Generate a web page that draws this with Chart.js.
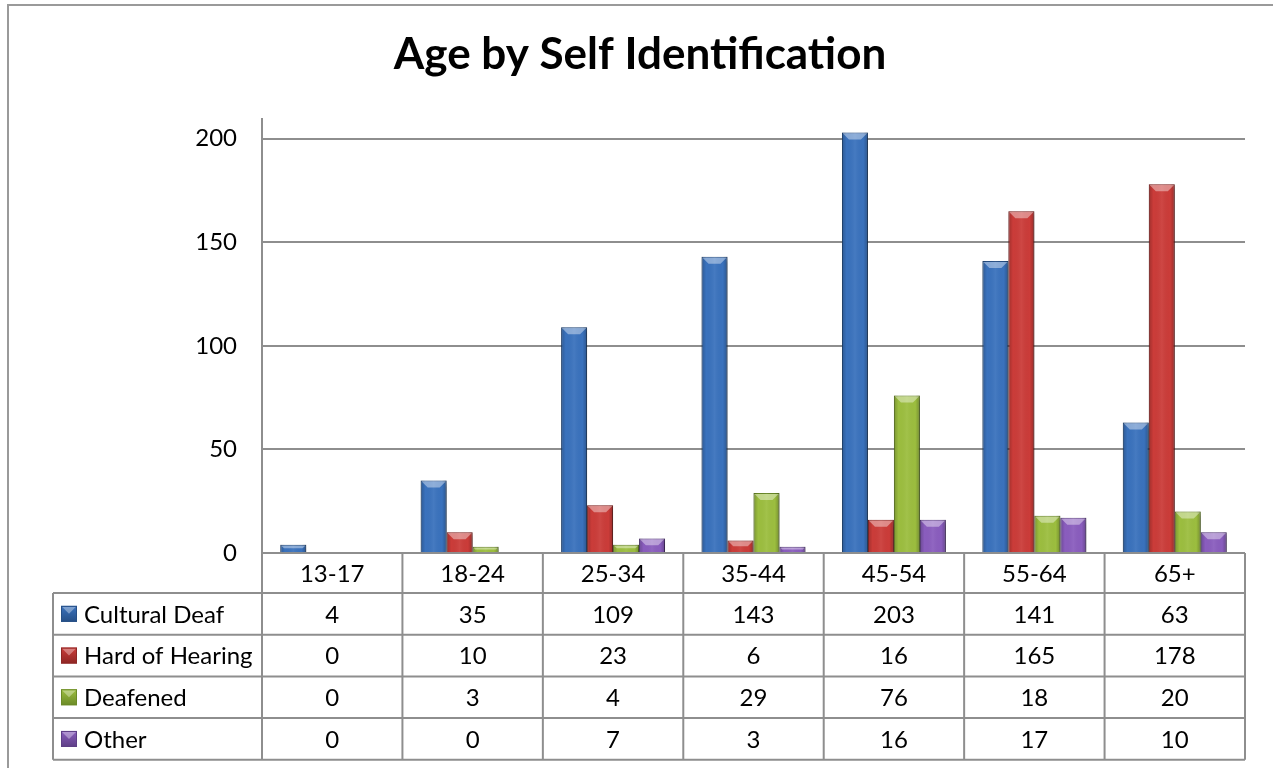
<!DOCTYPE html>
<html>
<head>
<meta charset="utf-8">
<title>Age by Self Identification</title>
<script src="https://cdn.jsdelivr.net/npm/chart.js@4.4.1/dist/chart.umd.min.js"></script>
<style>
  html, body { margin: 0; padding: 0; background: #fff; }
  #ageChart { display: block; }
</style>
</head>
<body>
<canvas id="ageChart" width="1273" height="768"></canvas>
<script>
/* ================= DATA ================= */
const ageGroups = ['13-17', '18-24', '25-34', '35-44', '45-54', '55-64', '65+'];
const culturalDeaf = [4, 35, 109, 143, 203, 141, 63];
const hardOfHearing = [0, 10, 23, 6, 16, 165, 178];
const deafened = [0, 3, 4, 29, 76, 18, 20];
const other = [0, 0, 7, 3, 16, 17, 10];
const seriesNames = ['Cultural Deaf', 'Hard of Hearing', 'Deafened', 'Other'];
const chartTitle = 'Age by Self Identification';

const fillColors = ['#3a72bd', '#cb3c39', '#9cbe3f', '#8a5dbe'];
const edgeColors = ['#264f86', '#8e2624', '#6b8a27', '#5e3f86'];

const FONT = 'Lato, "Open Sans", sans-serif';
const LINE = '#8e8e8e';

/* ================= FRAME + TITLE ================= */
const framePlugin = {
  id: 'frame',
  beforeDraw(chart) {
    const ctx = chart.ctx;
    ctx.save();
    ctx.strokeStyle = '#9a9a9a';
    ctx.lineWidth = 2;
    ctx.strokeRect(8, 5, chart.width + 20, chart.height + 20);

    ctx.fillStyle = '#000';
    ctx.font = 'bold 44px ' + FONT;
    ctx.textAlign = 'center';
    ctx.textBaseline = 'middle';
    ctx.fillText(chartTitle, 640, 55);
    ctx.restore();
  }
};

/* ================= BEVEL + SHADOW ON BARS ================= */
const bevelPlugin = {
  id: 'bevel',
  beforeDatasetDraw(chart) {
    const ctx = chart.ctx;
    ctx.save();
    ctx.shadowColor = 'rgba(0,0,0,0.35)';
    ctx.shadowBlur = 5;
    ctx.shadowOffsetX = 2;
    ctx.shadowOffsetY = 2;
  },
  afterDatasetDraw(chart, args) {
    const ctx = chart.ctx;
    ctx.restore();
    args.meta.data.forEach(bar => {
      const p = bar.getProps(['x', 'y', 'base', 'width'], true);
      const h = p.base - p.y;
      if (h <= 0.5) return;
      const left = p.x - p.width / 2;
      const right = p.x + p.width / 2;
      ctx.save();
      // darker sides
      const g = ctx.createLinearGradient(left, 0, right, 0);
      g.addColorStop(0, 'rgba(0,0,0,0.22)');
      g.addColorStop(0.18, 'rgba(0,0,0,0)');
      g.addColorStop(0.5, 'rgba(255,255,255,0.06)');
      g.addColorStop(0.82, 'rgba(0,0,0,0)');
      g.addColorStop(1, 'rgba(0,0,0,0.25)');
      ctx.fillStyle = g;
      ctx.fillRect(left, p.y, p.width, h);
      // light top cap
      const bev = Math.min(7, h / 2);
      ctx.beginPath();
      ctx.moveTo(left + 1, p.y + 1);
      ctx.lineTo(right - 1, p.y + 1);
      ctx.lineTo(right - bev, p.y + bev);
      ctx.lineTo(left + bev, p.y + bev);
      ctx.closePath();
      ctx.fillStyle = 'rgba(255,255,255,0.4)';
      ctx.fill();
      ctx.restore();
    });
  }
};

/* ================= DATA TABLE UNDER THE PLOT ================= */
const dataTablePlugin = {
  id: 'dataTable',
  afterDraw(chart) {
    const ctx = chart.ctx;
    const xs = chart.scales.x;
    const area = chart.chartArea;
    const colW = xs.width / ageGroups.length;
    const legendLeft = 53;
    const headTop = area.bottom;
    const headH = 40;
    const rowH = 41.7;
    const tableBottom = headTop + headH + rowH * seriesNames.length;

    ctx.save();
    ctx.strokeStyle = LINE;
    ctx.lineWidth = 2;

    // horizontal lines
    ctx.beginPath();
    ctx.moveTo(area.left, headTop);
    ctx.lineTo(area.right, headTop);
    for (let r = 0; r <= seriesNames.length; r++) {
      const y = headTop + headH + r * rowH;
      ctx.moveTo(legendLeft, y);
      ctx.lineTo(area.right, y);
    }
    // vertical lines
    ctx.moveTo(legendLeft, headTop + headH);
    ctx.lineTo(legendLeft, tableBottom);
    ctx.moveTo(area.left, area.top);
    ctx.lineTo(area.left, tableBottom);
    for (let i = 0; i < ageGroups.length; i++) {
      const x = xs.getPixelForValue(i) + colW / 2;
      ctx.moveTo(x, headTop);
      ctx.lineTo(x, tableBottom);
    }
    ctx.stroke();

    ctx.fillStyle = '#000';
    ctx.font = '24px ' + FONT;
    ctx.textAlign = 'center';
    ctx.textBaseline = 'middle';

    ageGroups.forEach((label, i) => {
      ctx.fillText(label, xs.getPixelForValue(i), headTop + headH / 2 + 1);
    });

    chart.data.datasets.forEach((ds, r) => {
      const cy = headTop + headH + r * rowH + rowH / 2 + 1;
      ctx.textAlign = 'center';
      ds.data.forEach((v, i) => {
        ctx.fillText(String(v), xs.getPixelForValue(i), cy);
      });

      // legend key
      const kx = 61, ks = 16, ky = cy - ks / 2 - 1;
      const kg = ctx.createLinearGradient(0, ky, 0, ky + ks);
      kg.addColorStop(0, fillColors[r]);
      kg.addColorStop(1, edgeColors[r]);
      ctx.fillStyle = kg;
      ctx.fillRect(kx, ky, ks, ks);
      ctx.beginPath();
      ctx.moveTo(kx + 1, ky + 1);
      ctx.lineTo(kx + ks - 1, ky + 1);
      ctx.lineTo(kx + ks / 2, ky + ks / 2);
      ctx.closePath();
      ctx.fillStyle = 'rgba(255,255,255,0.35)';
      ctx.fill();
      ctx.strokeStyle = edgeColors[r];
      ctx.lineWidth = 1;
      ctx.strokeRect(kx + 0.5, ky + 0.5, ks - 1, ks - 1);

      ctx.fillStyle = '#000';
      ctx.textAlign = 'left';
      ctx.fillText(ds.label, 84, cy);
    });
    ctx.restore();
  }
};

/* ================= CHART ================= */
const seriesData = [culturalDeaf, hardOfHearing, deafened, other];

new Chart(document.getElementById('ageChart'), {
  type: 'bar',
  data: {
    labels: ageGroups,
    datasets: seriesNames.map((name, i) => ({
      label: name,
      data: seriesData[i],
      backgroundColor: fillColors[i],
      borderColor: edgeColors[i],
      borderWidth: 1,
      categoryPercentage: 0.74,
      barPercentage: 1.0
    }))
  },
  options: {
    responsive: false,
    animation: false,
    layout: {
      padding: { left: 0, right: 28, top: 118, bottom: 215 }
    },
    scales: {
      x: {
        display: false
      },
      y: {
        min: 0,
        max: 210,
        afterFit(scale) { scale.width = 262; },
        border: { display: false },
        grid: {
          color: LINE,
          lineWidth: 2,
          drawTicks: false
        },
        ticks: {
          stepSize: 50,
          includeBounds: false,
          padding: 25,
          color: '#000',
          font: { family: FONT, size: 24 }
        }
      }
    },
    plugins: {
      legend: { display: false },
      tooltip: { enabled: false },
      title: { display: false }
    }
  },
  plugins: [framePlugin, bevelPlugin, dataTablePlugin]
});
</script>
</body>
</html>
